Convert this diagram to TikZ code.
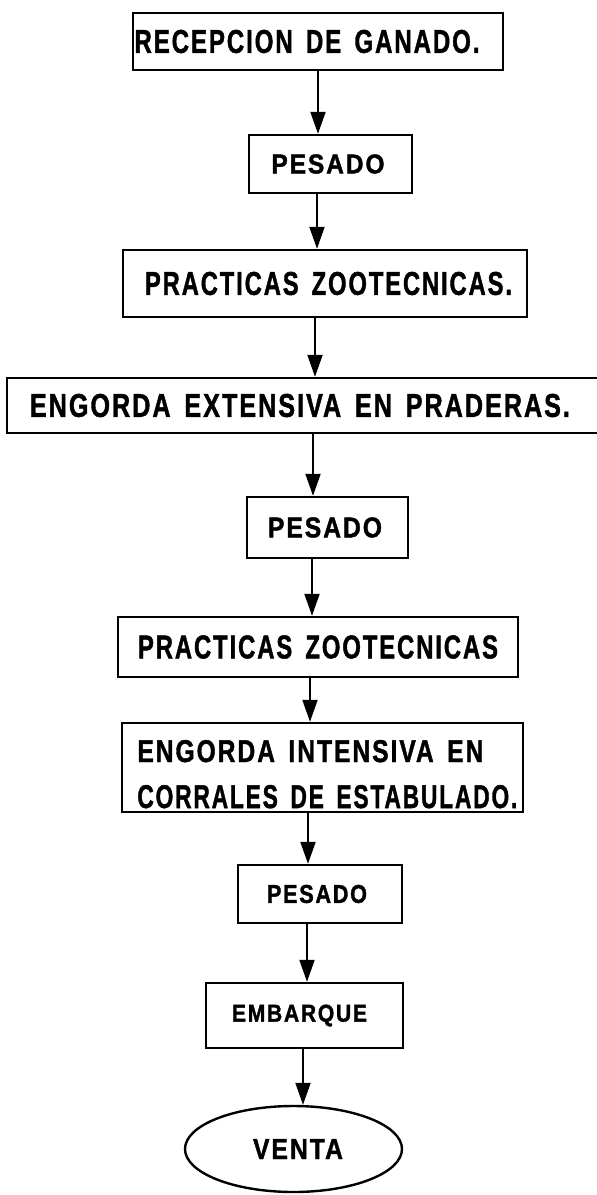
\documentclass[tikz,border=0pt]{standalone}
\usepackage{fontspec}
\setmainfont{Liberation Sans}
\usetikzlibrary{arrows.meta,shapes.geometric}
\newcommand{\fittext}[3]{\resizebox{#1}{#2}{\bfseries\addfontfeature{LetterSpace=8,FakeBold=1.5}\spaceskip=0.55em #3}}
\begin{document}
\begin{tikzpicture}[x=0.5pt,y=-0.5pt,
  box/.style={draw, line width=1.2pt, inner sep=0pt, rectangle},
  oval/.style={draw, line width=1.2pt, inner sep=0pt, ellipse},
  arr/.style={line width=1pt, -{Triangle[length=11pt,width=7.5pt]}},
  plain/.style={inner sep=0pt, anchor=base west}]
\useasboundingbox (0,0) rectangle (597,1195);
\clip (0,0) rectangle (597,1195);

\node[box, minimum width=185pt, minimum height=28.5pt] (b1) at (318,41.5)
  {\fittext{172.5pt}{11.5pt}{RECEPCION DE GANADO.}\hspace*{11pt}};
\node[box, minimum width=81.5pt, minimum height=29pt] (b2) at (330.5,164)
  {\fittext{56.5pt}{9.5pt}{PESADO}\hspace*{2.5pt}};
\node[box, minimum width=202pt, minimum height=33.5pt] (b3) at (325,283.5)
  {\hspace*{3.5pt}\fittext{183.5pt}{11.5pt}{PRACTICAS ZOOTECNICAS.}};
\node[box, minimum width=299pt, minimum height=27.5pt] (b4) at (306,405.5)
  {\fittext{270pt}{11.5pt}{ENGORDA EXTENSIVA EN PRADERAS.}\hspace*{6pt}};
\node[box, minimum width=80.5pt, minimum height=30.5pt] (b5) at (327.5,527.5)
  {\fittext{57pt}{10pt}{PESADO}\hspace*{2.5pt}};
\node[box, minimum width=200pt, minimum height=30pt] (b6) at (318,647)
  {\fittext{180pt}{11.5pt}{PRACTICAS ZOOTECNICAS}};
\node[box, minimum width=200.5pt, minimum height=44.5pt] (b7) at (322.5,767.5) {};
\node[plain] (t7a) at (137,762) {\fittext{173pt}{11pt}{ENGORDA INTENSIVA EN}};
\node[plain] (t7b) at (137,808) {\fittext{190pt}{11.5pt}{CORRALES DE ESTABULADO.}};
\node[box, minimum width=82pt, minimum height=29pt] (b8) at (320,894)
  {\fittext{50pt}{9pt}{PESADO}\hspace*{3pt}};
\node[box, minimum width=98.5pt, minimum height=32.5pt] (b9) at (304.5,1015.5)
  {\fittext{67.5pt}{8.5pt}{EMBARQUE}\hspace*{5pt}};
\node[oval, minimum width=108.5pt, minimum height=43pt] (v) at (293.5,1149)
  {\hspace*{4.5pt}\fittext{45pt}{10pt}{VENTA}};

\coordinate (ax1) at (318,0);
\coordinate (ax2) at (317,0);
\coordinate (ax3) at (315,0);
\coordinate (ax4) at (313,0);
\coordinate (ax5) at (312,0);
\coordinate (ax6) at (310,0);
\coordinate (ax7) at (308,0);
\coordinate (ax8) at (307,0);
\coordinate (ax9) at (303,0);

\draw[arr] (b1.south -| ax1) -- (b2.north -| ax1);
\draw[arr] (b2.south -| ax2) -- (b3.north -| ax2);
\draw[arr] (b3.south -| ax3) -- (b4.north -| ax3);
\draw[arr] (b4.south -| ax4) -- (b5.north -| ax4);
\draw[arr] (b5.south -| ax5) -- (b6.north -| ax5);
\draw[arr] (b6.south -| ax6) -- (b7.north -| ax6);
\draw[arr] (b7.south -| ax7) -- (b8.north -| ax7);
\draw[arr] (b8.south -| ax8) -- (b9.north -| ax8);
\draw[arr] (b9.south -| ax9) -- (v.north -| ax9);
\end{tikzpicture}
\end{document}
